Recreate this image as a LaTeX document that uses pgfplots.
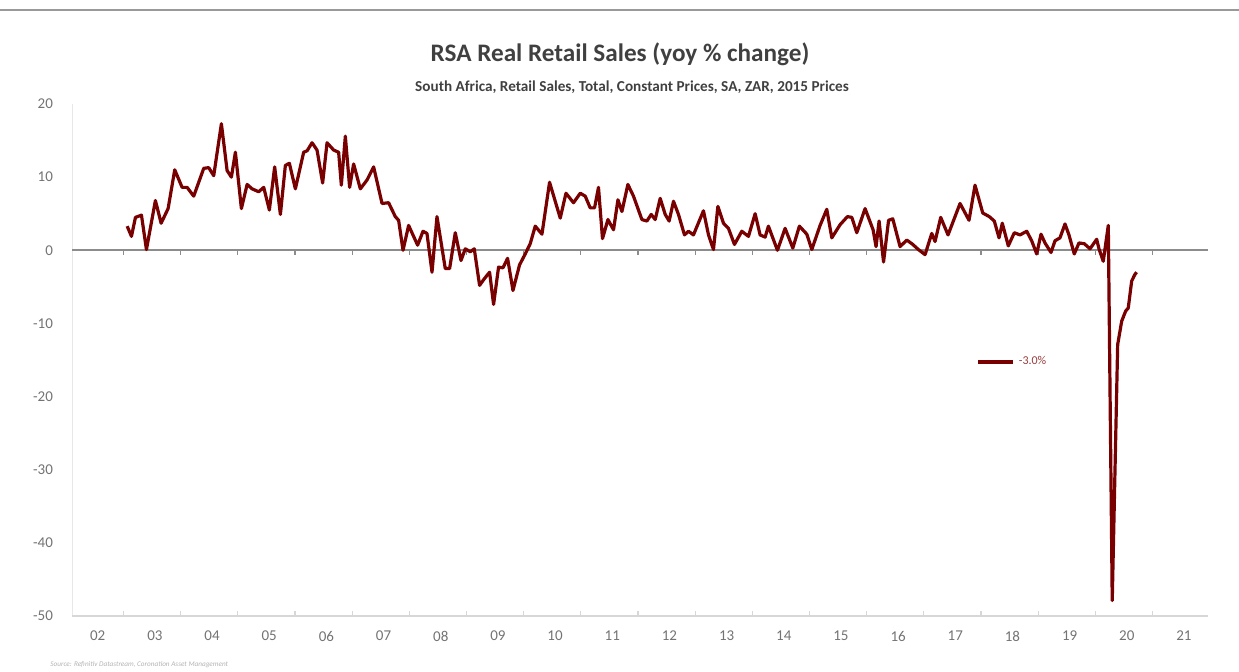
\documentclass[border=0pt]{standalone}
\usepackage{fontspec}
\setmainfont{Carlito}
\usepackage{pgfplots}
\usepackage{pgfplotstable}
\pgfplotsset{compat=1.18}
\definecolor{linered}{RGB}{120,0,0}
\definecolor{ticklab}{RGB}{115,115,115}
\definecolor{titlegray}{RGB}{64,64,64}
\definecolor{zerogray}{RGB}{140,140,140}
\definecolor{framegray}{RGB}{215,215,215}
\definecolor{legred}{RGB}{150,60,60}

\pgfplotstableread{
x y
2003.065 3.3
2003.140 1.9
2003.210 4.5
2003.315 4.8
2003.402 0.1
2003.559 6.8
2003.659 3.7
2003.781 5.7
2003.897 11.0
2004.026 8.6
2004.114 8.6
2004.229 7.4
2004.404 11.2
2004.491 11.3
2004.579 10.2
2004.713 17.3
2004.813 10.9
2004.888 10.0
2004.958 13.4
2005.063 5.7
2005.163 9.0
2005.250 8.4
2005.365 8.0
2005.453 8.6
2005.552 5.5
2005.645 11.4
2005.745 4.9
2005.832 11.6
2005.902 11.9
2006.007 8.4
2006.152 13.4
2006.212 13.6
2006.299 14.7
2006.386 13.7
2006.484 9.2
2006.561 14.7
2006.677 13.7
2006.764 13.4
2006.811 8.9
2006.881 15.6
2006.956 8.6
2007.026 11.8
2007.143 8.4
2007.260 9.6
2007.376 11.4
2007.523 6.4
2007.638 6.5
2007.755 4.6
2007.813 4.1
2007.890 0.0
2007.988 3.4
2008.145 0.7
2008.240 2.6
2008.309 2.3
2008.397 -3.0
2008.484 4.6
2008.629 -2.5
2008.705 -2.5
2008.804 2.4
2008.904 -1.4
2008.979 0.2
2009.066 -0.2
2009.136 0.2
2009.229 -4.8
2009.311 -3.9
2009.404 -3.0
2009.474 -7.4
2009.561 -2.3
2009.638 -2.4
2009.719 -1.1
2009.813 -5.5
2009.928 -2.0
2010.028 -0.5
2010.115 0.9
2010.203 3.3
2010.320 2.2
2010.453 9.3
2010.640 4.4
2010.740 7.8
2010.872 6.5
2010.990 7.8
2011.077 7.4
2011.164 5.8
2011.240 5.8
2011.309 8.6
2011.379 1.6
2011.474 4.2
2011.572 2.8
2011.649 6.9
2011.719 5.3
2011.823 9.0
2011.921 7.4
2012.068 4.2
2012.156 4.0
2012.231 4.9
2012.301 4.2
2012.388 7.1
2012.476 4.9
2012.545 4.0
2012.621 6.7
2012.708 4.9
2012.813 2.1
2012.883 2.6
2012.970 2.1
2013.145 5.4
2013.233 2.1
2013.320 0.1
2013.397 6.0
2013.495 3.7
2013.582 3.0
2013.687 0.8
2013.816 2.6
2013.932 1.9
2014.049 5.0
2014.136 2.1
2014.224 1.8
2014.281 3.3
2014.439 0.0
2014.573 3.0
2014.708 0.3
2014.823 3.3
2014.953 2.2
2015.040 0.1
2015.185 3.4
2015.302 5.6
2015.390 1.7
2015.535 3.5
2015.663 4.6
2015.740 4.5
2015.827 2.4
2015.972 5.7
2016.112 2.8
2016.164 0.5
2016.217 4.0
2016.295 -1.6
2016.383 4.1
2016.456 4.3
2016.584 0.5
2016.701 1.4
2016.806 0.8
2016.904 0.1
2017.021 -0.6
2017.138 2.3
2017.196 1.2
2017.295 4.5
2017.423 2.1
2017.633 6.4
2017.790 4.1
2017.895 8.9
2018.030 5.1
2018.145 4.6
2018.232 4.0
2018.315 1.7
2018.372 3.7
2018.477 0.6
2018.582 2.4
2018.682 2.1
2018.799 2.6
2018.886 1.3
2018.974 -0.5
2019.049 2.2
2019.119 1.0
2019.224 -0.3
2019.294 1.3
2019.381 1.7
2019.469 3.6
2019.538 2.1
2019.631 -0.5
2019.713 1.0
2019.806 0.9
2019.906 0.2
2020.023 1.5
2020.063 0.2
2020.138 -1.5
2020.226 3.4
2020.295 -47.9
2020.390 -12.9
2020.460 -9.7
2020.530 -8.3
2020.575 -7.9
2020.635 -4.2
2020.692 -3.3
2020.722 -3.0
}\salesdata

\begin{document}
\begin{tikzpicture}[x=1pt,y=1pt]
\useasboundingbox (0,0) rectangle (619.5,336);
\draw[color=black!40, line width=1pt] (0,331) -- (619.5,331);
\node[font=\bfseries\fontsize{12.6}{14}\selectfont, text=titlegray] at (310,309) {RSA Real Retail Sales (yoy \% change)};
\node[font=\bfseries\fontsize{7.6}{9}\selectfont, text=titlegray] at (316,292.5) {South Africa, Retail Sales, Total, Constant Prices, SA, ZAR, 2015 Prices};
\node[anchor=west, font=\itshape\fontsize{3.6}{4}\selectfont, text=black!30, inner sep=0pt] at (25,3.5) {Source: Refinitiv Datastream, Coronation Asset Management};
\begin{axis}[
  at={(36pt,28pt)}, anchor=south west,
  scale only axis, width=568pt, height=256pt,
  xmin=2002.1, xmax=2021.97, ymin=-50, ymax=20,
  axis line style={draw=none},
  xtick={2003,2004,2005,2006,2007,2008,2009,2010,2011,2012,2013,2014,2015,2016,2017,2018,2019,2020,2021},
  xticklabels={},
  xtick pos=lower,
  tick align=inside,
  major tick length=2.5pt,
  x tick style={framegray, line width=0.6pt},
  extra x ticks={2002.55,2003.55,2004.55,2005.55,2006.55,2007.55,2008.55,2009.55,2010.55,2011.55,2012.55,2013.55,2014.55,2015.55,2016.55,2017.55,2018.55,2019.55,2020.55,2021.55},
  extra x tick labels={02,03,04,05,06,07,08,09,10,11,12,13,14,15,16,17,18,19,20,21},
  extra x tick style={major tick length=0pt, tick style={draw=none}},
  ytick={-50,-40,-30,-20,-10,0,10,20},
  yticklabels={-50,-40,-30,-20,-10,0,10,20},
  ytick pos=left,
  y tick style={draw=none},
  tick label style={font=\fontsize{7.5}{9}\selectfont, text=ticklab},
  yticklabel style={xshift=-6pt},
  xticklabel style={yshift=-4pt},
  legend style={at={(0.796,0.496)}, anchor=west, draw=none, fill=none,
    font=\fontsize{6}{7}\selectfont, text=legred, inner sep=0pt},
  legend image code/.code={\draw[#1] (0pt,0pt) -- (17.5pt,0pt);},
  clip=false,
]
\draw[framegray!60, line width=0.5pt] (rel axis cs:0,0) -- (rel axis cs:0,1);
\draw[framegray, line width=0.8pt] (rel axis cs:0,0) -- (rel axis cs:1,0);
\draw[zerogray, line width=1pt] (axis cs:2002.1,0) -- (axis cs:2021.97,0);
\pgfplotsinvokeforeach{2003,2004,...,2021}{
  \draw[zerogray, line width=0.6pt] (axis cs:#1,0) -- ++(0pt,-2.5pt);
}
\addplot[linered, line width=1.6pt, line join=round, mark=none] table[x=x,y=y] {\salesdata};
\addlegendentry{-3.0\%}
\end{axis}
\end{tikzpicture}
\end{document}
